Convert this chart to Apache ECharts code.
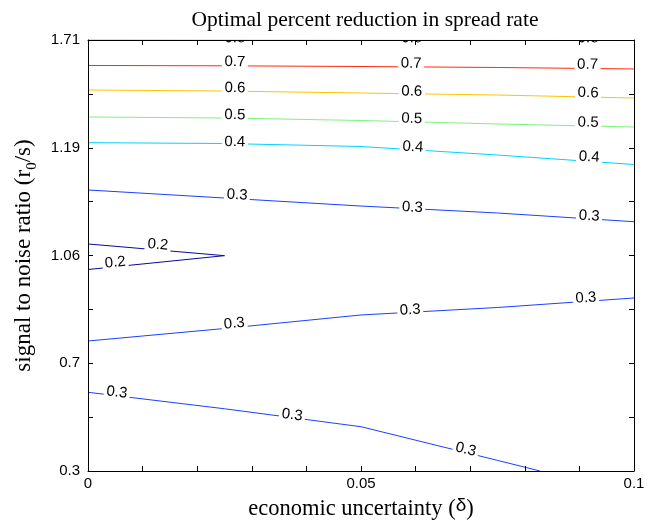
<!DOCTYPE html>
<html>
<head>
<meta charset="utf-8">
<script src="https://cdn.jsdelivr.net/npm/echarts@6/dist/echarts.min.js"></script>
<style>html,body{margin:0;padding:0;background:#fff}#c{width:652px;height:521px}</style>
</head>
<body>
<div id="c"></div>
<script>
// y axis is an index axis (0..8); tick labels at even indices
const yTickText = ['0.3', '', '0.7', '', '1.06', '', '1.19', '', '1.71'];
const xTickText = { '0': '0', '0.05': '0.05', '0.1': '0.1' };

// contour polylines [delta, y-index]
const c08 = [[0, 7.997], [0.05, 7.993], [0.1, 7.99]];
const c07 = [[0, 7.527], [0.025, 7.521], [0.05, 7.508], [0.075, 7.490], [0.1, 7.462]];
const c06 = [[0, 7.072], [0.025, 7.053], [0.05, 7.016], [0.075, 6.979], [0.1, 6.923]];
const c05 = [[0, 6.571], [0.025, 6.552], [0.05, 6.506], [0.075, 6.441], [0.1, 6.385]];
const c04 = [[0, 6.094], [0.025, 6.079], [0.05, 6.023], [0.075, 5.865], [0.1, 5.689]];
const c03a = [[0, 5.216], [0.025, 5.067], [0.05, 4.918], [0.075, 4.789], [0.1, 4.627]];
const c02 = [[0, 4.214], [0.025, 3.997], [0, 3.740]];
const c03b = [[0, 2.413], [0.025, 2.645], [0.05, 2.896], [0.075, 3.035], [0.1, 3.211]];
const c03c = [[0, 1.461], [0.025, 1.155], [0.05, 0.822], [0.075, 0.197], [0.0828, 0]];

// contour label positions
const l08 = [[0.0269, 8.037], [0.0593, 8.037], [0.0916, 8.037]];
const l07 = [[0.0269, 7.592], [0.0592, 7.563], [0.0915, 7.542]];
const l06 = [[0.0269, 7.109], [0.0593, 7.044], [0.0916, 7.017]];
const l05 = [[0.0269, 6.608], [0.0593, 6.539], [0.0916, 6.469]];
const l04 = [[0.0269, 6.107], [0.0595, 6.014], [0.0918, 5.828]];
const l03a = [[0.0273, 5.123], [0.0594, 4.891], [0.0918, 4.733]];
const l02 = [[0.0128, 4.200], [0.0050, 3.870]];
const l03b = [[0.0268, 2.738], [0.0590, 2.988], [0.0912, 3.211]];
const l03c = [[0.0053, 1.457], [0.0374, 1.039], [0.0692, 0.399]];

const contours = [
  { level: '0.8', color: '#7a0000', pts: c08, labels: l08 },
  { level: '0.7', color: '#ff2a10', pts: c07, labels: l07 },
  { level: '0.6', color: '#ffc400', pts: c06, labels: l06 },
  { level: '0.5', color: '#7cf47c', pts: c05, labels: l05 },
  { level: '0.4', color: '#00d4ff', pts: c04, labels: l04 },
  { level: '0.3', color: '#1a40ff', pts: c03a, labels: l03a },
  { level: '0.2', color: '#0a0a96', pts: c02, labels: l02 },
  { level: '0.3', color: '#1a40ff', pts: c03b, labels: l03b },
  { level: '0.3', color: '#1a40ff', pts: c03c, labels: l03c }
];

const chart = echarts.init(document.getElementById('c'));
const sans = 'Liberation Sans';
const serif = 'Liberation Serif';

function xFmt(v) {
  for (const k in xTickText) { if (Math.abs(v - parseFloat(k)) < 1e-9) return xTickText[k]; }
  return '';
}

const lineSeries = contours.map(c => ({
  type: 'line', data: c.pts, showSymbol: false, silent: true, clip: true,
  lineStyle: { color: c.color, width: 1 }, z: 2
}));

const labelData = [];
contours.forEach((c, ci) => c.labels.forEach(l => labelData.push([l[0], l[1], ci])));

function segDist(p, a, b) {
  const dx = b[0] - a[0], dy = b[1] - a[1];
  const L = dx * dx + dy * dy;
  let t = L ? ((p[0] - a[0]) * dx + (p[1] - a[1]) * dy) / L : 0;
  t = Math.max(0, Math.min(1, t));
  const qx = a[0] + t * dx, qy = a[1] + t * dy;
  return Math.hypot(p[0] - qx, p[1] - qy);
}

const labelSeries = {
  type: 'custom', data: labelData, clip: true, silent: true, z: 5,
  encode: { x: 0, y: 1 },
  renderItem: function (params, api) {
    const ci = api.value(2);
    const c = contours[ci];
    const p = api.coord([api.value(0), api.value(1)]);
    const pts = c.pts.map(d => api.coord(d));
    let best = Infinity, ang = 0;
    for (let i = 0; i < pts.length - 1; i++) {
      const d = segDist(p, pts[i], pts[i + 1]);
      if (d < best) { best = d; ang = Math.atan2(pts[i + 1][1] - pts[i][1], pts[i + 1][0] - pts[i][0]); }
    }
    if (ang > Math.PI / 2) ang -= Math.PI;
    if (ang < -Math.PI / 2) ang += Math.PI;
    return {
      type: 'group', x: p[0], y: p[1], rotation: -ang,
      children: [
        { type: 'rect', shape: { x: -13, y: -7, width: 26, height: 14 }, style: { fill: '#fff' } },
        { type: 'text', style: { text: c.level, x: 0, y: 0, align: 'center', verticalAlign: 'middle', font: '15px "Liberation Sans"', fill: '#000' } }
      ]
    };
  }
};

const axisCommon = {
  axisLine: { show: true, onZero: false, lineStyle: { color: '#000', width: 1 } },
  axisTick: { show: true, inside: true, length: 5, lineStyle: { color: '#000' } },
  splitLine: { show: false },
  z: 10
};

chart.setOption({
  animation: false,
  backgroundColor: '#fff',
  title: {
    text: 'Optimal percent reduction in spread rate', left: 360, textAlign: 'center', top: 4,
    textStyle: { fontFamily: serif, fontSize: 21.5, fontWeight: 'normal', color: '#000' }
  },
  grid: { left: 88, right: 18, top: 40, bottom: 50, containLabel: false, outerBoundsMode: 'none' },
  xAxis: [
    Object.assign({}, axisCommon, {
      type: 'value', min: 0, max: 0.1, interval: 0.01, position: 'bottom',
      axisLabel: { formatter: xFmt, color: '#000', fontFamily: sans, fontSize: 15, margin: 5, showMinLabel: true, showMaxLabel: true },
      name: '{n|economic uncertainty (}{d|δ}{n|)}', nameLocation: 'middle', nameGap: 17,
      nameTextStyle: {
        rich: {
          n: { fontFamily: serif, fontSize: 22.5, color: '#000', lineHeight: 25, verticalAlign: 'bottom' },
          d: { fontFamily: sans, fontSize: 19, color: '#000', lineHeight: 19, verticalAlign: 'top' }
        }
      }
    }),
    Object.assign({}, axisCommon, {
      type: 'value', min: 0, max: 0.1, interval: 0.01, position: 'top', axisLabel: { show: false }
    })
  ],
  yAxis: [
    Object.assign({}, axisCommon, {
      type: 'value', min: 0, max: 8, interval: 1, position: 'left',
      axisLabel: { formatter: v => yTickText[Math.round(v)] || '', color: '#000', fontFamily: sans, fontSize: 15, margin: 8 },
      name: '{n|signal to noise ratio (r}{s|0}{n|/s)}', nameLocation: 'middle', nameGap: 46,
      nameTextStyle: {
        rich: {
          n: { fontFamily: serif, fontSize: 23, color: '#000', lineHeight: 23, verticalAlign: 'top' },
          s: { fontFamily: serif, fontSize: 15, color: '#000', lineHeight: 27, verticalAlign: 'bottom' }
        }
      }
    }),
    Object.assign({}, axisCommon, {
      type: 'value', min: 0, max: 8, interval: 1, position: 'right', axisLabel: { show: false }
    })
  ],
  series: lineSeries.concat([labelSeries])
});
</script>
</body>
</html>
